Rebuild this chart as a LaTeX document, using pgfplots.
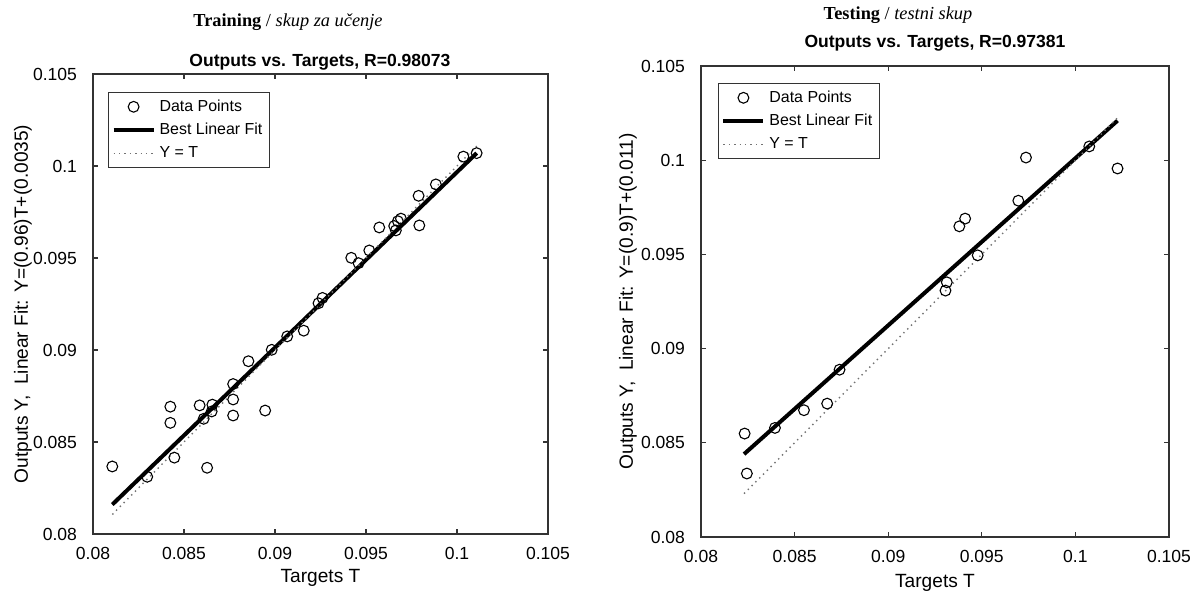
\documentclass[border=0pt]{standalone}
\usepackage{fontspec}
\setmainfont{Liberation Sans}
\newfontfamily\timesfont{Liberation Serif}
\usepackage{pgfplots}
\pgfplotsset{compat=1.18}

\definecolor{axgray}{gray}{0.2}
\definecolor{idgray}{gray}{0.45}

\pgfplotsset{
  regplot/.style={
    scale only axis,
    xmin=0.08, xmax=0.105, ymin=0.08, ymax=0.105,
    xtick={0.08,0.085,0.09,0.095,0.1,0.105},
    ytick={0.08,0.085,0.09,0.095,0.1,0.105},
    xticklabels={0.08,0.085,0.09,0.095,0.1,0.105},
    yticklabels={0.08,0.085,0.09,0.095,0.1,0.105},
    tick align=inside, major tick length=2.5bp,
    axis line style={axgray, line width=0.7bp},
    every tick/.style={axgray, line width=0.6bp},
    tick label style={font=\fontsize{8.8}{10}\selectfont},
    label style={font=\fontsize{9.6}{11}\selectfont},
    xticklabel style={yshift=-3bp},
    yticklabel style={xshift=-4.5bp},
    xlabel={Targets T},
    legend cell align=left,
    legend style={anchor=north west, draw=axgray, line width=0.6bp,
      font=\fontsize{8}{9}\selectfont, inner sep=1.5bp, row sep=0.5bp},
    legend image code/.code={\draw[#1] (0bp,0bp) -- (20bp,0bp);},
  },
  datapts/.style={only marks, mark=o, mark size=2.7bp, black, line width=0.55bp,
    mark options={solid},
    legend image code/.code={\draw[#1] plot coordinates {(10bp,0bp)};}},
  fitline/.style={black, line width=2bp, no marks},
  idline/.style={idgray, line width=0.7bp, dotted, no marks},
}

\begin{document}
\begin{tikzpicture}
\useasboundingbox (0,0) rectangle (599bp,297bp);

% Training
\begin{axis}[regplot,
    at={(46.5bp,30bp)}, anchor=south west,
    width=227.5bp, height=230bp,
    ylabel={Outputs Y,~~Linear Fit: Y=(0.96)T+(0.0035)},
    ylabel style={at={(axis description cs:-0.154,0.5)}, anchor=center},
    xlabel style={at={(axis description cs:0.5,-0.096)}, anchor=center},
    legend style={at={(axis description cs:0.033,0.961)}},
  ]
\addplot[datapts] coordinates {
  (0.08106,0.08367)(0.08298,0.08311)(0.08425,0.08692)(0.08425,0.08604)
  (0.08447,0.08415)(0.08586,0.08699)(0.08608,0.08626)(0.08627,0.08360)
  (0.08652,0.08666)(0.08656,0.08703)(0.08770,0.08815)(0.08770,0.08731)
  (0.08770,0.08644)(0.08854,0.08939)(0.08946,0.08671)(0.08982,0.09001)
  (0.09067,0.09074)(0.09158,0.09105)(0.09239,0.09254)(0.09261,0.09283)
  (0.09419,0.09501)(0.09459,0.09472)(0.09518,0.09541)(0.09573,0.09666)
  (0.09655,0.09674)(0.09664,0.09650)(0.09692,0.09714)(0.09675,0.09700)
  (0.09789,0.09838)(0.09793,0.09677)(0.09884,0.09900)(0.10035,0.10051)
  (0.10108,0.10070)
};
\addlegendentry{Data Points}
\addplot[fitline] coordinates {(0.08106,0.08160)(0.10108,0.10070)};
\addlegendentry{Best Linear Fit}
\addplot[idline] coordinates {(0.08106,0.08106)(0.10108,0.10108)};
\addlegendentry{Y = T}
\end{axis}

% Testing
\begin{axis}[regplot,
    at={(350.5bp,28.5bp)}, anchor=south west,
    width=234bp, height=235.5bp,
    ylabel={Outputs Y,~~Linear Fit: Y=(0.9)T+(0.011)},
    ylabel style={at={(axis description cs:-0.156,0.5)}, anchor=center},
    xlabel style={at={(axis description cs:0.5,-0.098)}, anchor=center},
    legend style={at={(axis description cs:0.036,0.964)}},
  ]
\addplot[datapts] coordinates {
  (0.08233,0.08549)(0.08245,0.08337)(0.08395,0.08579)(0.08550,0.08673)
  (0.08674,0.08708)(0.08740,0.08888)(0.09306,0.09308)(0.09313,0.09352)
  (0.09380,0.09649)(0.09411,0.09690)(0.09478,0.09495)(0.09695,0.09785)
  (0.09736,0.10014)(0.10074,0.10073)(0.10225,0.09956)
};
\addlegendentry{Data Points}
\addplot[fitline] coordinates {(0.0823,0.0844)(0.10225,0.1021)};
\addlegendentry{Best Linear Fit}
\addplot[idline] coordinates {(0.0823,0.0823)(0.10225,0.10225)};
\addlegendentry{Y = T}
\end{axis}

% headings and titles
\node[font=\timesfont\fontsize{9.2}{11}\selectfont] at (144bp,286bp)
  {\textbf{Training} / \textit{skup za učenje}};
\node[font=\timesfont\fontsize{9.2}{11}\selectfont] at (449bp,289.5bp)
  {\textbf{Testing} / \textit{testni skup}};
\node[font=\bfseries\fontsize{8.8}{10}\selectfont] at (160bp,266bp)
  {Outputs vs. Targets, R=0.98073};
\node[font=\bfseries\fontsize{8.8}{10}\selectfont] at (467.5bp,275.5bp)
  {Outputs vs. Targets, R=0.97381};
\end{tikzpicture}
\end{document}
